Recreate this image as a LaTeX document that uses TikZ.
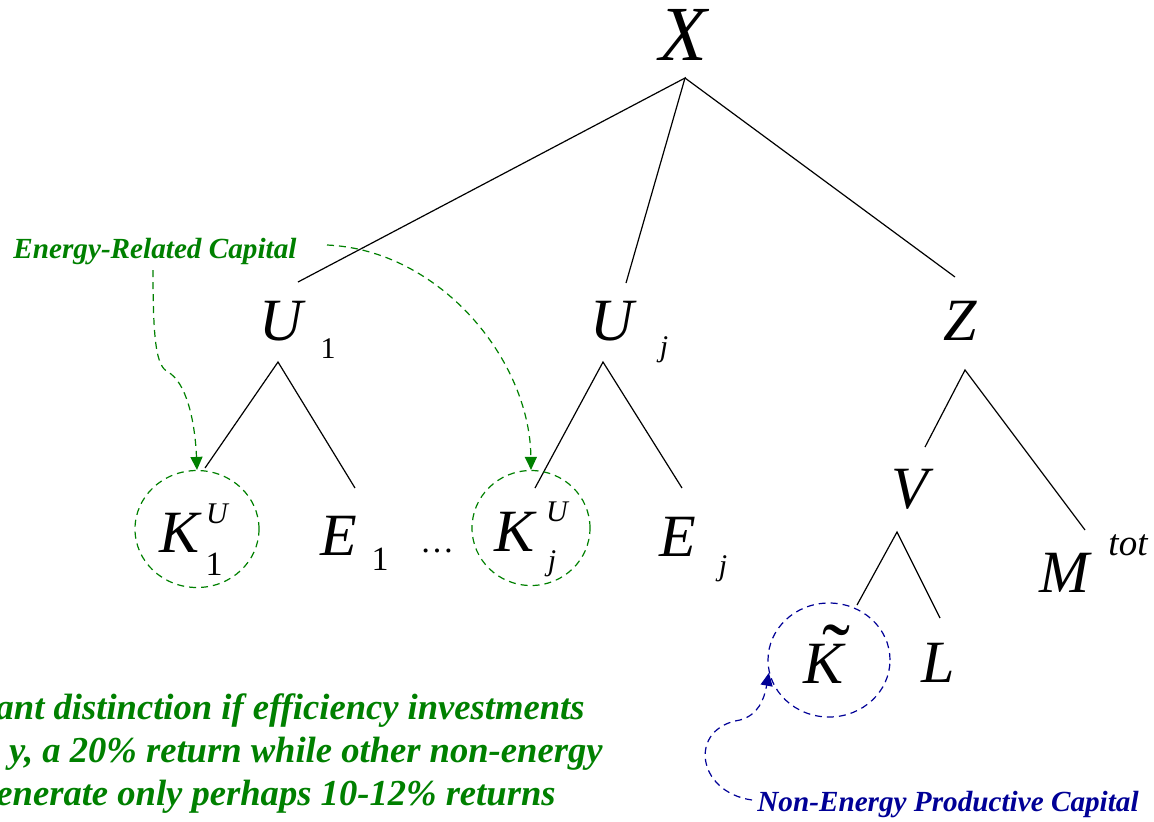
\documentclass[tikz,border=0pt]{standalone}
\usepackage{fontspec}
\setmainfont{Liberation Serif}
\usetikzlibrary{arrows.meta,shapes.geometric}
\definecolor{capgreen}{RGB}{0,128,0}
\definecolor{capblue}{RGB}{0,0,150}

\begin{document}
\begin{tikzpicture}[
    x=0.5pt, y=-0.5pt,
    >={Triangle[length=6.5pt,width=6pt]},
    big/.style={font=\fontsize{30}{30}\selectfont\itshape, anchor=base, inner sep=0pt},
    sub/.style={font=\fontsize{15}{15}\selectfont, anchor=base, inner sep=0pt},
    note/.style={font=\fontsize{14.6}{14.6}\selectfont\bfseries\itshape, anchor=base, inner sep=0pt},
    remark/.style={font=\fontsize{18.3}{18.3}\selectfont\bfseries\itshape, anchor=base east, inner sep=0pt, capgreen},
    ring/.style={draw, ellipse, dash pattern=on 3.5pt off 2.5pt, line width=0.6pt, inner sep=0pt},
    branch/.style={line width=0.6pt},
    arr/.style={->, dash pattern=on 3.5pt off 2.5pt, line width=0.6pt}
  ]
    \useasboundingbox (0,0) rectangle (1154,821);

    % Top level
    \node[big, font=\fontsize{39}{39}\selectfont\itshape] (X) at (683,60) {X};
    \node[big] (U1) at (281,340) {U};
    \node[sub] (U1s) at (328,358) {1};
    \node[big] (Uj) at (612,340) {U};
    \node[sub] (Ujs) at (664,356) {\itshape j};
    \node[big] (Z) at (960,340) {Z};

    % Second level
    \node[big] (K1) at (180,552) {K};
    \node[sub] (K1u) at (217,523) {\itshape U};
    \node[sub, font=\fontsize{17}{17}\selectfont] (K1s) at (214,575) {1};
    \node[big] (E1) at (339,555) {E};
    \node[sub, font=\fontsize{17}{17}\selectfont] (E1s) at (380,570) {1};
    \node[sub, font=\fontsize{17}{17}\selectfont] (dots) at (437,552) {\ldots};
    \node[big] (Kj) at (514,551) {K};
    \node[sub] (Kju) at (557,521) {\itshape U};
    \node[sub] (Kjs) at (552,570) {\itshape j};
    \node[big] (Ej) at (678,556) {E};
    \node[sub] (Ejs) at (723,575) {\itshape j};
    \node[big] (V) at (910,508) {V};
    \node[big] (M) at (1064,592) {M};
    \node[sub, font=\fontsize{18.5}{18.5}\selectfont\itshape] (Ms) at (1128,555) {tot};

    % Third level
    \node[big] (Kt) at (823,683) {K};
    \node[big, font=\fontsize{42}{42}\selectfont, anchor=north] (Kti) at (836,624) {\char"02DC};
    \node[big] (L) at (938,682) {L};

    % Branches
    \coordinate (xa) at (685,78);
    \coordinate (u1a) at (278,362);
    \coordinate (uja) at (603,362);
    \coordinate (za) at (965,370);
    \coordinate (va) at (897,532);
    \draw[branch] (298,282) -- (xa) -- (626,283);
    \draw[branch] (xa) -- (955,277);
    \draw[branch] (205,468) -- (u1a) -- (355,488);
    \draw[branch] (535,488) -- (uja) -- (682,488);
    \draw[branch] (925,447) -- (za) -- (1085,530);
    \draw[branch] (857,605) -- (va) -- (940,618);

    % Rings round the capital inputs
    \node[ring, capgreen, minimum width=62pt, minimum height=58.5pt] (r1) at (197,529) {};
    \node[ring, capgreen, minimum width=59pt, minimum height=57.5pt] (rj) at (531,528) {};
    \node[ring, capblue, minimum width=61pt, minimum height=57pt] (rt) at (829,660) {};

    % Notes
    \node[note, capgreen, anchor=base west] (erc) at (13,258) {Energy-Related Capital};
    \coordinate (e1) at (153,270);
    \coordinate (e2) at (327,245);
    \draw[arr, capgreen] (e1) .. controls (153,340) and (156,366) .. (168,372)
      .. controls (186,382) and (195,420) .. (r1.north);
    \draw[arr, capgreen] (e2) .. controls (440,250) and (530,360) .. (rj.north);

    \node[note, capblue, anchor=base west] (nepc) at (757,811) {Non-Energy Productive Capital};
    \coordinate (n1) at (752,800);
    \draw[arr, capblue] (n1) .. controls (696,792) and (688,728) .. (740,720)
      .. controls (758,715) and (764,700) .. (rt.192);

    \node[remark] (t1) at (585,719) {ant distinction if efficiency investments};
    \node[remark] (t2) at (603,762) {y, a 20\% return while other non-energy};
    \node[remark] (t3) at (556,805) {enerate only perhaps 10-12\% returns};
  \end{tikzpicture}
\end{document}
